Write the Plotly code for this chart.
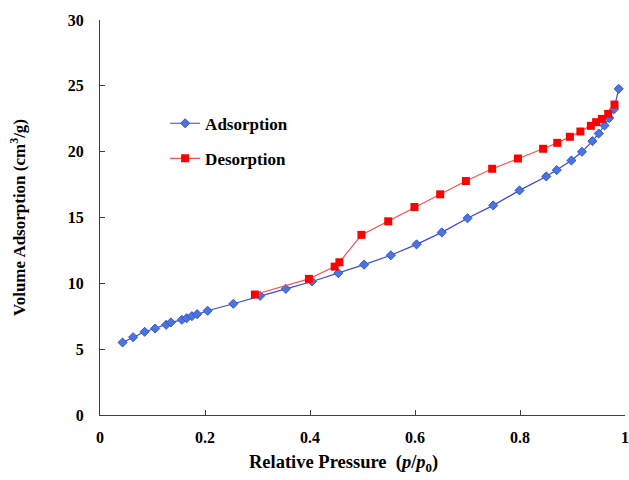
import plotly.graph_objects as go

ads_p = [0.043, 0.063, 0.085, 0.105, 0.126, 0.135, 0.156, 0.165, 0.175, 0.185,
         0.205, 0.254, 0.305, 0.354, 0.404, 0.454, 0.503, 0.554, 0.603, 0.651,
         0.700, 0.749, 0.799, 0.850, 0.870, 0.898, 0.918, 0.938, 0.950, 0.961,
         0.970, 0.979, 0.988]
ads_v = [5.51, 5.91, 6.32, 6.57, 6.85, 7.03, 7.23, 7.35, 7.51, 7.66,
         7.92, 8.45, 9.05, 9.58, 10.14, 10.77, 11.42, 12.13, 12.96, 13.87,
         14.94, 15.92, 17.06, 18.12, 18.60, 19.33, 19.99, 20.80, 21.38, 21.99,
         22.55, 23.23, 24.77]

des_p = [0.980, 0.968, 0.956, 0.945, 0.935, 0.915, 0.895, 0.871, 0.844, 0.796,
         0.747, 0.697, 0.648, 0.599, 0.549, 0.498, 0.456, 0.447, 0.398, 0.295]
des_v = [23.58, 22.87, 22.49, 22.24, 21.96, 21.53, 21.13, 20.67, 20.22, 19.48,
         18.70, 17.77, 16.76, 15.80, 14.71, 13.68, 11.60, 11.27, 10.34, 9.15]

x_ticks = [0, 0.2, 0.4, 0.6, 0.8, 1]
x_labels = ["0", "0.2", "0.4", "0.6", "0.8", "1"]
y_ticks = [0, 5, 10, 15, 20, 25, 30]

x_title = "Relative Pressure  (<i>p</i>/<i>p</i><sub>0</sub>)"
y_title = "Volume Adsorption (cm<sup>3</sup>/g)"

FONT = "Liberation Serif"

fig = go.Figure()
fig.add_trace(go.Scatter(
    x=ads_p, y=ads_v, mode="lines+markers", name="Adsorption",
    legendgroup="a",
    line=dict(color="#3c46d8", width=1.2),
    marker=dict(symbol="diamond", size=7, color="#4a74e0",
                line=dict(color="#3556c8", width=1)),
))
fig.add_trace(go.Scatter(
    x=des_p, y=des_v, mode="lines+markers", name="Desorption",
    legendgroup="b",
    line=dict(color="#ff5050", width=1.2),
    marker=dict(symbol="square", size=8, color="#ff0000",
                line=dict(color="#ff0000", width=0)),
))

axis_common = dict(
    showgrid=False, zeroline=False, showline=True, linecolor="#404040",
    linewidth=1, ticks="inside", ticklen=5, tickcolor="#404040",
    automargin=False,
    tickfont=dict(family=FONT, size=16, color="black", weight="bold"),
)

fig.update_layout(
    width=629, height=480,
    margin=dict(l=100, r=4, t=20, b=65),
    paper_bgcolor="white", plot_bgcolor="white",
    font=dict(family=FONT, color="black"),
    xaxis=dict(range=[0, 1], tickvals=x_ticks, ticktext=x_labels,
               ticklabelstandoff=8,
               **axis_common),
    yaxis=dict(range=[0, 30], tickvals=y_ticks,
               title=dict(text=y_title, standoff=37,
                          font=dict(family=FONT, size=17, color="black", weight="bold")),
               ticklabelstandoff=12,
               **axis_common),
    legend=dict(x=0.124, y=0.783, xanchor="left", yanchor="top",
                bgcolor="rgba(0,0,0,0)", borderwidth=0,
                traceorder="grouped", tracegroupgap=10, itemwidth=30,
                font=dict(family=FONT, size=17, color="black", weight="bold")),
    showlegend=True,
    annotations=[dict(
        text=x_title, xref="paper", yref="paper", x=0.463, y=-0.124,
        xanchor="center", yanchor="middle", showarrow=False,
        font=dict(family=FONT, size=18.5, color="black", weight="bold"),
    )],
)
fig.write_html("out.html")
